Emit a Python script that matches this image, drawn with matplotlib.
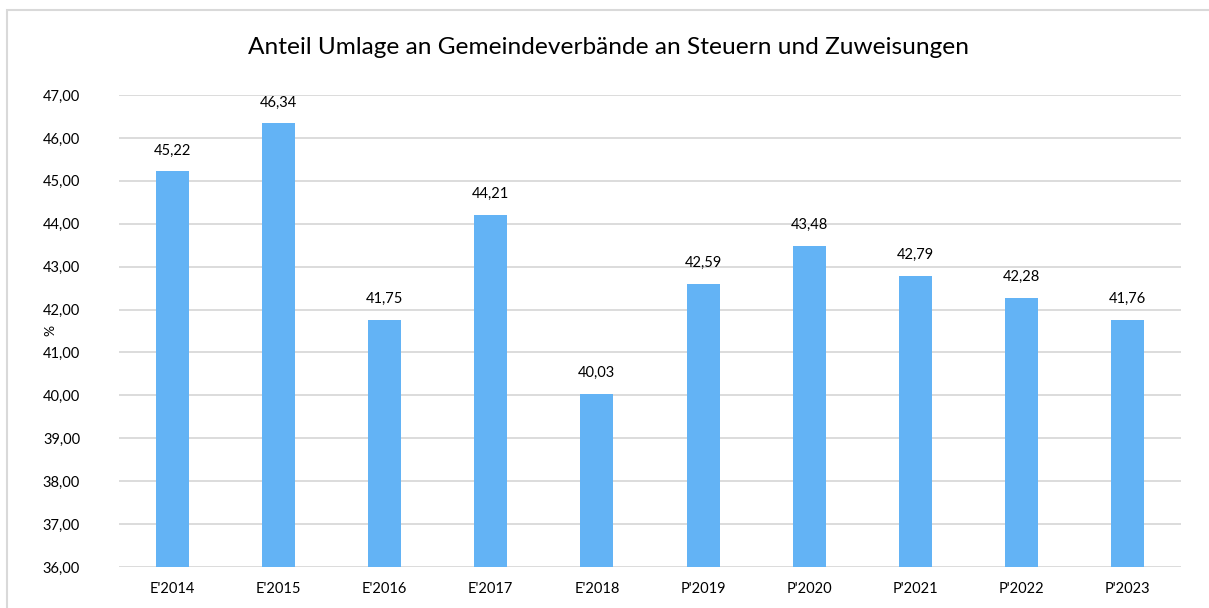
import matplotlib
matplotlib.use("Agg")
import matplotlib.pyplot as plt
from matplotlib.patches import Rectangle

categories = ["E'2014", "E'2015", "E'2016", "E'2017", "E'2018",
              "P'2019", "P'2020", "P'2021", "P'2022", "P'2023"]
values = [45.22, 46.34, 41.75, 44.21, 40.03, 42.59, 43.48, 42.79, 42.28, 41.76]
yticks = [36, 37, 38, 39, 40, 41, 42, 43, 44, 45, 46, 47]
title = "Anteil Umlage an Gemeindeverbände an Steuern und Zuweisungen"

plt.rcParams['font.family'] = ['Lato', 'DejaVu Sans']

fig = plt.figure(figsize=(12.09, 6.08), dpi=100)
ax = fig.add_axes([119/1209, 1-567/608, (1181-119)/1209, (567-95)/608])

x = list(range(len(categories)))
ax.bar(x, values, width=0.31, color='#63B3F5', zorder=3)
ax.set_ylim(36, 47)
ax.set_xlim(-0.5, len(categories)-0.5)
ax.set_yticks(yticks)
ax.set_yticklabels([f"{v:.2f}".replace('.', ',') for v in yticks], fontsize=10.5)
ax.set_xticks(x)
ax.set_xticklabels(categories, fontsize=10.5)
ax.tick_params(axis='both', length=0, colors='black')
ax.tick_params(axis='y', pad=28)
ax.tick_params(axis='x', pad=11)
ax.grid(axis='y', color='#D9D9D9', linewidth=1.3, zorder=0)
for s in ax.spines.values():
    s.set_visible(False)

for xi, v in zip(x, values):
    ax.annotate(f"{v:.2f}".replace('.', ','), (xi, v), xytext=(0, 10),
                textcoords='offset points', ha='center', va='bottom', fontsize=10.5)

fig.text(50/1209, 1-330/608, "%", rotation=90, ha='center', va='center', fontsize=10)
fig.text(609/1209, 1-47/608, title, ha='center', va='center', fontsize=17.6)

fig.patches.append(Rectangle((7/1209, -0.05), 1.2, 1-10/608+0.05, transform=fig.transFigure,
                             fill=False, edgecolor='#D9D9D9', linewidth=1.5))

fig.savefig("out.png", dpi=100)
